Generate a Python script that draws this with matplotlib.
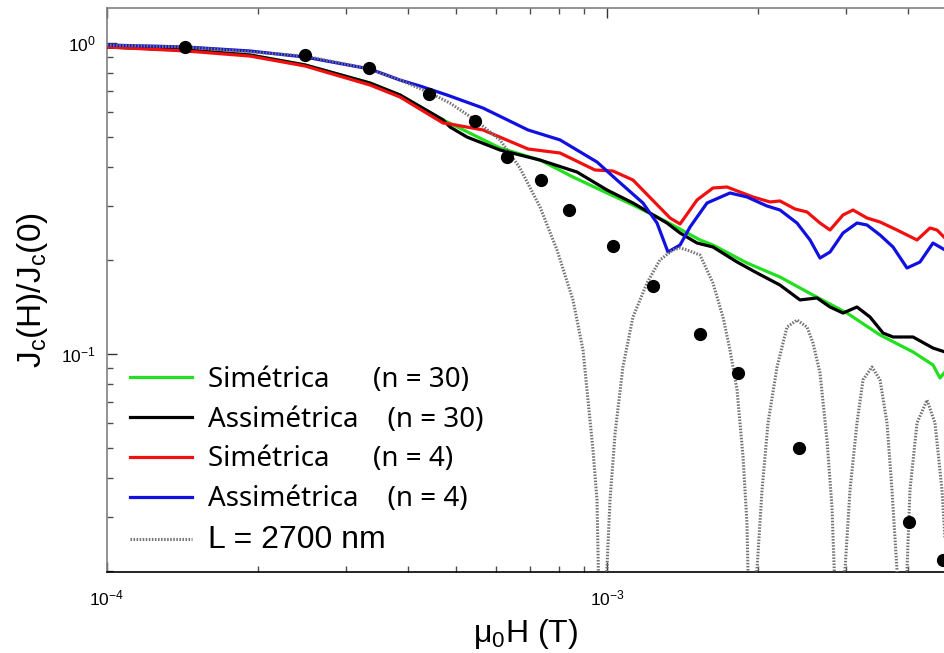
import matplotlib
matplotlib.use("Agg")
import matplotlib.pyplot as plt
from matplotlib.ticker import NullFormatter, LogLocator

plt.rcParams['font.family'] = ['Liberation Sans', 'DejaVu Sans']

# field (T) and normalised critical current
h_sim30 = [1.000e-4, 1.439e-4, 1.932e-4, 2.489e-4, 3.357e-4, 3.855e-4, 4.699e-4, 6.109e-4,
           7.345e-4, 8.551e-4, 1.000e-3, 1.127e-3, 1.318e-3, 1.535e-3, 1.629e-3, 1.905e-3,
           2.218e-3, 2.582e-3, 3.020e-3, 3.516e-3, 4.093e-3, 4.487e-3, 4.634e-3, 4.742e-3]
j_sim30 = [0.971, 0.9495, 0.915, 0.850, 0.7436, 0.6805, 0.566, 0.4597,
           0.4204, 0.3707, 0.3294, 0.3014, 0.2657, 0.2326, 0.2241, 0.1962,
           0.1768, 0.1547, 0.1354, 0.1151, 0.1015, 0.0922, 0.0837, 0.0875]

h_asym30 = [1.000e-4, 1.439e-4, 1.932e-4, 2.489e-4, 3.357e-4, 3.855e-4, 4.699e-4, 4.853e-4,
            5.248e-4, 6.109e-4, 7.345e-4, 8.710e-4, 1.000e-3, 1.127e-3, 1.318e-3, 1.400e-3,
            1.514e-3, 1.629e-3, 1.820e-3, 1.995e-3, 2.218e-3, 2.432e-3, 2.630e-3, 2.793e-3,
            2.965e-3, 3.162e-3, 3.357e-3, 3.565e-3, 3.733e-3, 4.093e-3, 4.487e-3, 4.742e-3]
j_asym30 = [0.971, 0.9495, 0.915, 0.850, 0.7436, 0.6805, 0.566, 0.537,
            0.4984, 0.4529, 0.4204, 0.3847, 0.3368, 0.3059, 0.2637, 0.2449,
            0.2274, 0.2208, 0.1976, 0.1822, 0.1666, 0.1492, 0.1514, 0.1416,
            0.1354, 0.1416, 0.1315, 0.1168, 0.1134, 0.1134, 0.1045, 0.1015]

h_sim4 = [1.000e-4, 1.439e-4, 1.932e-4, 2.489e-4, 3.357e-4, 3.855e-4, 4.699e-4, 4.853e-4,
          5.649e-4, 6.950e-4, 8.054e-4, 9.462e-4, 1.028e-3, 1.127e-3, 1.337e-3, 1.400e-3,
          1.514e-3, 1.629e-3, 1.738e-3, 1.845e-3, 1.959e-3, 2.118e-3, 2.218e-3, 2.377e-3,
          2.512e-3, 2.667e-3, 2.793e-3, 2.965e-3, 3.105e-3, 3.311e-3, 3.516e-3, 3.802e-3,
          4.169e-3, 4.426e-3, 4.571e-3, 4.742e-3]
j_sim4 = [0.971, 0.9425, 0.908, 0.8435, 0.7328, 0.6705, 0.5531, 0.549,
          0.5253, 0.4563, 0.4429, 0.3905, 0.3876, 0.3626, 0.2737, 0.2618,
          0.3128, 0.3418, 0.3443, 0.3318, 0.3198, 0.3082, 0.3105, 0.2926,
          0.2862, 0.2637, 0.2504, 0.2799, 0.2904, 0.2737, 0.2657, 0.2504,
          0.2326, 0.2542, 0.2504, 0.236]

h_asym4 = [1.000e-4, 1.439e-4, 1.932e-4, 2.489e-4, 3.357e-4, 3.855e-4, 4.227e-4, 4.786e-4,
           5.649e-4, 6.950e-4, 8.054e-4, 9.550e-4, 1.047e-3, 1.180e-3, 1.259e-3, 1.324e-3,
           1.400e-3, 1.466e-3, 1.585e-3, 1.762e-3, 1.905e-3, 2.089e-3, 2.218e-3, 2.399e-3,
           2.547e-3, 2.667e-3, 2.793e-3, 2.965e-3, 3.162e-3, 3.311e-3, 3.516e-3, 3.733e-3,
           3.981e-3, 4.227e-3, 4.487e-3, 4.742e-3]
j_asym4 = [0.985, 0.971, 0.9425, 0.9015, 0.825, 0.760, 0.7273, 0.6805,
           0.618, 0.5253, 0.488, 0.4143, 0.3626, 0.3059, 0.2637, 0.2128,
           0.2241, 0.2561, 0.3059, 0.3294, 0.3198, 0.2992, 0.2904, 0.2637,
           0.2326, 0.2035, 0.2128, 0.2449, 0.2637, 0.2599, 0.2413, 0.2208,
           0.1890, 0.1976, 0.2274, 0.2160]

# L = 2700 nm curve (values below the axis bottom mark the zeros)
h_L = [1.000e-4, 1.439e-4, 2.489e-4, 3.357e-4, 3.855e-4, 4.426e-4, 4.853e-4, 5.445e-4,
       6.109e-4, 6.699e-4, 7.345e-4, 7.943e-4, 8.551e-4, 8.954e-4, 9.162e-4, 9.376e-4,
       9.550e-4, 9.772e-4, 1.000e-3, 1.014e-3, 1.038e-3, 1.076e-3, 1.127e-3, 1.202e-3,
       1.276e-3, 1.355e-3, 1.400e-3, 1.445e-3, 1.535e-3, 1.629e-3, 1.706e-3, 1.762e-3,
       1.820e-3, 1.871e-3, 1.905e-3, 1.950e-3, 1.995e-3, 2.042e-3, 2.099e-3, 2.188e-3,
       2.291e-3, 2.399e-3, 2.512e-3, 2.582e-3, 2.667e-3, 2.754e-3, 2.818e-3, 2.938e-3,
       2.992e-3, 3.062e-3, 3.162e-3, 3.251e-3, 3.388e-3, 3.516e-3, 3.631e-3, 3.715e-3,
       3.802e-3, 3.890e-3, 3.981e-3, 4.036e-3, 4.169e-3, 4.365e-3, 4.529e-3, 4.677e-3,
       4.853e-3]
j_L = [0.985, 0.971, 0.908, 0.825, 0.760, 0.691, 0.641, 0.566,
       0.488, 0.396, 0.297, 0.216, 0.149, 0.103, 0.0711, 0.0491,
       0.0339, 0.005, 0.0207, 0.0339, 0.0557, 0.0908, 0.1315, 0.169,
       0.2006, 0.216, 0.2193, 0.216, 0.208, 0.169, 0.1315, 0.103,
       0.0766, 0.0467, 0.0286, 0.005, 0.0202, 0.0365, 0.060, 0.0908,
       0.1221, 0.1286, 0.1221, 0.1085, 0.0869, 0.0529, 0.0322, 0.005,
       0.0202, 0.0365, 0.060, 0.0825, 0.0908, 0.0825, 0.060, 0.0365,
       0.0202, 0.005, 0.0202, 0.0365, 0.060, 0.0711, 0.060, 0.0365,
       0.0140]

# measured points
h_exp = [1.432e-4, 2.49e-4, 3.34e-4, 4.41e-4, 5.45e-4, 6.31e-4, 7.38e-4, 8.39e-4,
         1.028e-3, 1.236e-3, 1.535e-3, 1.828e-3, 2.42e-3, 4.02e-3, 4.70e-3]
j_exp = [0.971, 0.915, 0.831, 0.685, 0.561, 0.430, 0.3626, 0.290,
         0.2224, 0.1655, 0.1160, 0.0869, 0.0499, 0.0288, 0.0218]

labels = ["Simétrica      (n = 30)", "Assimétrica    (n = 30)",
          "Simétrica      (n = 4)", "Assimétrica    (n = 4)", "L = 2700 nm"]

fig = plt.figure(figsize=(9.45, 6.53), dpi=100)
ax = fig.add_axes([107 / 945, 81 / 653, 838 / 945, 564 / 653])

lw = 2.3
l1, = ax.plot(h_sim30, j_sim30, color='#22e01e', lw=lw, zorder=2)
l2, = ax.plot(h_asym30, j_asym30, color='black', lw=lw, zorder=3)
l3, = ax.plot(h_sim4, j_sim4, color='#f01010', lw=lw, zorder=4)
l4, = ax.plot(h_asym4, j_asym4, color='#1010e0', lw=lw, zorder=5)
l5, = ax.plot(h_L, j_L, color='0.45', lw=2.2, ls=(0, (0.5, 0.5)), zorder=6)
ax.plot(h_exp, j_exp, 'o', color='black', ms=8.5, zorder=7)

ax.set_xscale('log')
ax.set_yscale('log')
ax.set_xlim(1e-4, 10 ** -2.324)
ax.set_ylim(0.0199, 1.296)

ax.spines['right'].set_visible(False)
ax.spines['left'].set_color('0.5')
ax.spines['top'].set_color('0.5')
ax.spines['bottom'].set_color('black')
for s in ax.spines.values():
    s.set_linewidth(1.2)

ax.xaxis.set_minor_locator(LogLocator(base=10, subs=range(2, 10), numticks=20))
ax.yaxis.set_minor_locator(LogLocator(base=10, subs=range(2, 10), numticks=20))
ax.xaxis.set_minor_formatter(NullFormatter())
ax.yaxis.set_minor_formatter(NullFormatter())
ax.tick_params(which='both', direction='in', top=True, right=False, labelsize=12.5)
ax.tick_params(which='major', length=7, width=1, color='0.2')
ax.tick_params(which='minor', length=4, width=1, color='0.3')
ax.tick_params(axis='x', pad=12)
ax.tick_params(axis='y', pad=8)

ax.set_xlabel('μ$_\\mathregular{0}$H (T)', fontsize=23, labelpad=6)
ax.set_ylabel('J$_\\mathregular{c}$(H)/J$_\\mathregular{c}$(0)', fontsize=24, labelpad=8)

leg = ax.legend([l1, l2, l3, l4, l5], labels, loc='upper left',
                bbox_to_anchor=(0.028, 0.366), frameon=False, borderpad=0,
                borderaxespad=0, handlelength=2.2, handletextpad=0.6,
                labelspacing=0.43, prop={'family': 'Noto Sans', 'size': 20})
leg.get_texts()[4].set_fontfamily('Liberation Sans')
leg.get_texts()[4].set_fontsize(23)

fig.savefig('out.png', dpi=100)
